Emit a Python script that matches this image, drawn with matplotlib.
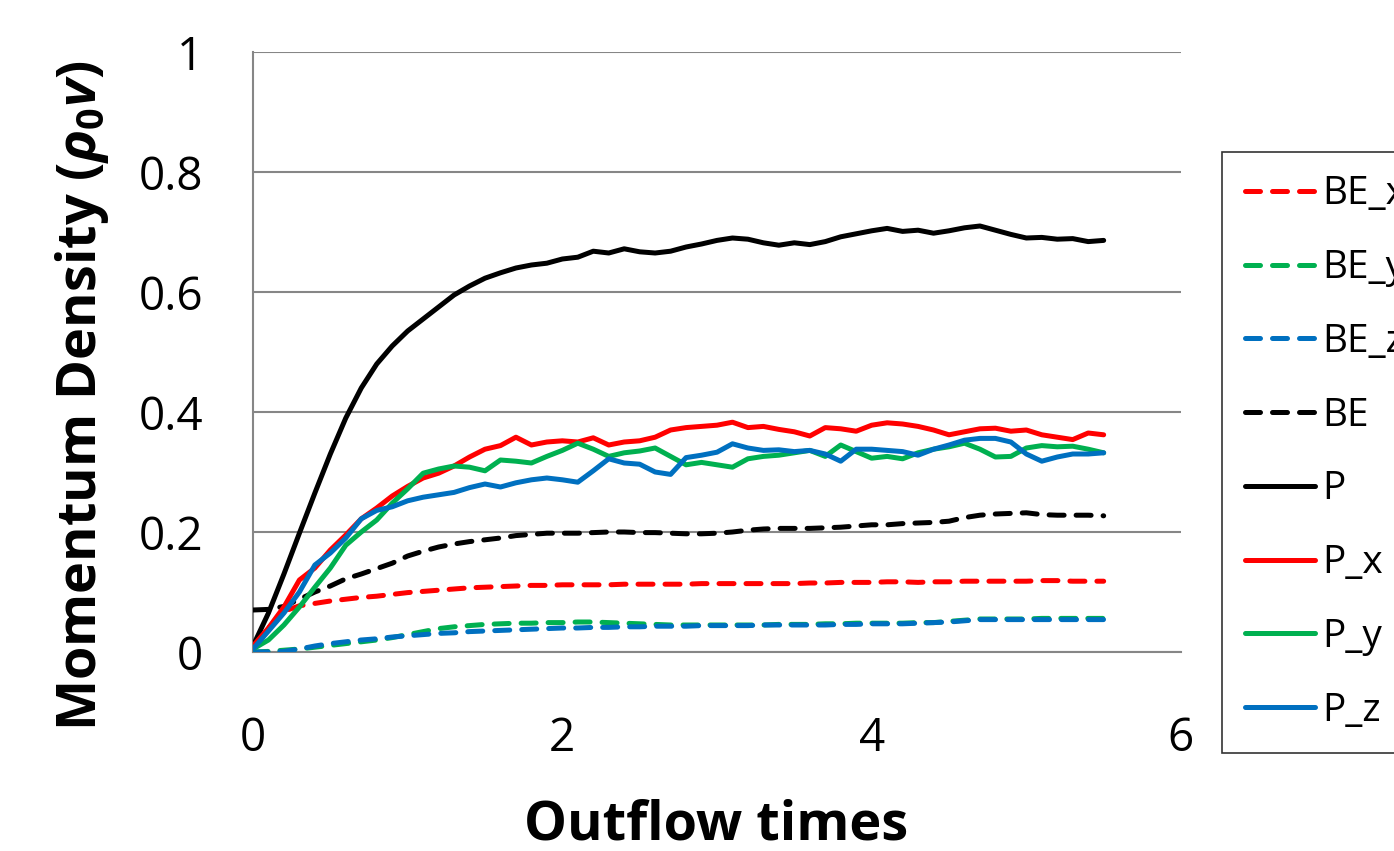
import numpy as np
import matplotlib
matplotlib.use("Agg")
import matplotlib.pyplot as plt

plt.rcParams['font.family'] = ['Open Sans', 'DejaVu Sans']
plt.rcParams['mathtext.fontset'] = 'custom'
plt.rcParams['mathtext.it'] = 'Open Sans:italic:bold'
plt.rcParams['mathtext.rm'] = 'Open Sans:bold'
plt.rcParams['mathtext.bf'] = 'Open Sans:bold'

# ---------------- data ----------------
time = np.round(np.arange(0, 5.51, 0.1), 1)

BE_x = [0.005, 0.040, 0.068, 0.077, 0.081, 0.085, 0.088, 0.091, 0.093, 0.096,
        0.099, 0.101, 0.103, 0.105, 0.107, 0.108, 0.109, 0.110, 0.111, 0.111,
        0.112, 0.112, 0.112, 0.112, 0.113, 0.113, 0.113, 0.113, 0.113, 0.114,
        0.114, 0.114, 0.114, 0.114, 0.114, 0.114, 0.115, 0.115, 0.116, 0.116,
        0.116, 0.117, 0.117, 0.116, 0.117, 0.117, 0.118, 0.118, 0.118, 0.118,
        0.118, 0.119, 0.119, 0.118, 0.118, 0.118]
BE_y = [0.000, 0.001, 0.003, 0.005, 0.008, 0.011, 0.014, 0.017, 0.020, 0.024,
        0.029, 0.034, 0.039, 0.042, 0.044, 0.046, 0.047, 0.048, 0.048, 0.049,
        0.049, 0.050, 0.050, 0.049, 0.048, 0.047, 0.046, 0.045, 0.045, 0.045,
        0.045, 0.045, 0.045, 0.045, 0.046, 0.046, 0.046, 0.047, 0.047, 0.048,
        0.048, 0.048, 0.048, 0.049, 0.049, 0.051, 0.053, 0.055, 0.055, 0.055,
        0.055, 0.056, 0.056, 0.056, 0.056, 0.056]
BE_z = [0.000, 0.000, 0.001, 0.005, 0.010, 0.014, 0.017, 0.020, 0.022, 0.025,
        0.027, 0.029, 0.031, 0.032, 0.034, 0.035, 0.036, 0.037, 0.038, 0.039,
        0.040, 0.040, 0.041, 0.041, 0.042, 0.042, 0.043, 0.043, 0.043, 0.044,
        0.044, 0.044, 0.044, 0.045, 0.045, 0.045, 0.045, 0.045, 0.046, 0.046,
        0.047, 0.047, 0.047, 0.048, 0.049, 0.050, 0.052, 0.054, 0.054, 0.054,
        0.054, 0.054, 0.054, 0.054, 0.054, 0.054]
BE = [0.070, 0.071, 0.076, 0.088, 0.100, 0.110, 0.122, 0.130, 0.139, 0.148,
      0.160, 0.168, 0.175, 0.180, 0.184, 0.187, 0.190, 0.194, 0.196, 0.198,
      0.198, 0.198, 0.199, 0.200, 0.200, 0.199, 0.199, 0.198, 0.197, 0.197,
      0.198, 0.200, 0.203, 0.205, 0.206, 0.206, 0.206, 0.207, 0.208, 0.210,
      0.212, 0.212, 0.214, 0.215, 0.216, 0.218, 0.224, 0.228, 0.230, 0.231,
      0.232, 0.229, 0.228, 0.228, 0.228, 0.227]
P = [0.010, 0.065, 0.130, 0.198, 0.265, 0.330, 0.390, 0.440, 0.480, 0.510,
     0.535, 0.555, 0.575, 0.595, 0.610, 0.623, 0.632, 0.640, 0.645, 0.648,
     0.655, 0.658, 0.668, 0.665, 0.672, 0.667, 0.665, 0.668, 0.675, 0.680,
     0.686, 0.690, 0.688, 0.682, 0.678, 0.682, 0.679, 0.684, 0.692, 0.697,
     0.702, 0.706, 0.701, 0.703, 0.698, 0.702, 0.707, 0.710, 0.703, 0.696,
     0.690, 0.691, 0.688, 0.689, 0.684, 0.686]
P_x = [0.010, 0.040, 0.075, 0.120, 0.140, 0.170, 0.195, 0.222, 0.240, 0.260,
       0.276, 0.290, 0.298, 0.310, 0.325, 0.338, 0.344, 0.358, 0.345, 0.350,
       0.352, 0.350, 0.357, 0.345, 0.350, 0.352, 0.358, 0.370, 0.374, 0.376,
       0.378, 0.383, 0.374, 0.376, 0.371, 0.367, 0.360, 0.374, 0.372, 0.368,
       0.378, 0.382, 0.380, 0.376, 0.370, 0.362, 0.367, 0.372, 0.373, 0.368,
       0.370, 0.362, 0.358, 0.354, 0.365, 0.362]
P_y = [0.005, 0.020, 0.045, 0.075, 0.108, 0.140, 0.178, 0.200, 0.220, 0.248,
       0.272, 0.298, 0.305, 0.310, 0.308, 0.302, 0.320, 0.318, 0.315, 0.326,
       0.336, 0.348, 0.338, 0.326, 0.332, 0.335, 0.340, 0.326, 0.312, 0.316,
       0.312, 0.308, 0.322, 0.326, 0.328, 0.332, 0.336, 0.326, 0.345, 0.334,
       0.323, 0.326, 0.322, 0.332, 0.338, 0.342, 0.348, 0.338, 0.325, 0.326,
       0.340, 0.344, 0.342, 0.343, 0.338, 0.332]
P_z = [0.005, 0.035, 0.065, 0.100, 0.145, 0.165, 0.190, 0.222, 0.236, 0.242,
       0.252, 0.258, 0.262, 0.266, 0.274, 0.280, 0.275, 0.282, 0.287, 0.290,
       0.287, 0.283, 0.302, 0.322, 0.315, 0.313, 0.300, 0.296, 0.324, 0.328,
       0.333, 0.347, 0.340, 0.336, 0.337, 0.334, 0.336, 0.330, 0.318, 0.338,
       0.338, 0.336, 0.334, 0.328, 0.338, 0.345, 0.353, 0.356, 0.356, 0.350,
       0.330, 0.318, 0.325, 0.330, 0.330, 0.332]

series_names = ['BE_x', 'BE_y', 'BE_z', 'BE', 'P', 'P_x', 'P_y', 'P_z']
series_values = [BE_x, BE_y, BE_z, BE, P, P_x, P_y, P_z]
series_colors = ['#FF0000', '#00B050', '#0070C0', '#000000',
                 '#000000', '#FF0000', '#00B050', '#0070C0']
series_dashed = [True, True, True, True, False, False, False, False]

x_ticks = [0, 2, 4, 6]
x_tick_labels = ['0', '2', '4', '6']
y_ticks = [0, 0.2, 0.4, 0.6, 0.8, 1.0]
y_tick_labels = ['0', '0.2', '0.4', '0.6', '0.8', '1']

# ---------------- figure ----------------
W, H = 1394, 851
fig = plt.figure(figsize=(W / 100, H / 100), dpi=100)
ax = fig.add_axes([253 / W, 1 - 652 / H, (1181 - 253) / W, 600 / H])

grid_c = '#868686'
LW = 3.6
for name, vals, col, dsh in zip(series_names, series_values, series_colors, series_dashed):
    if dsh:
        ax.plot(time, vals, color=col, lw=LW, linestyle=(0, (3.0, 2.4)),
                dash_capstyle='round', solid_capstyle='round', label=name, zorder=3)
    else:
        ax.plot(time, vals, color=col, lw=LW, solid_joinstyle='round',
                solid_capstyle='round', label=name, zorder=3)

ax.set_xlim(0, 6)
ax.set_ylim(0, 1)
ax.set_xticks(x_ticks)
ax.set_xticklabels(x_tick_labels)
ax.set_yticks(y_ticks)
ax.set_yticklabels(y_tick_labels)
ax.tick_params(axis='both', length=0, labelsize=33)
ax.tick_params(axis='x', pad=46)
ax.tick_params(axis='y', pad=36)

ax.grid(axis='y', color=grid_c, lw=1.5, zorder=0)
for s in ['top', 'right']:
    ax.spines[s].set_visible(False)
ax.spines['left'].set_color(grid_c)
ax.spines['left'].set_linewidth(1.5)
ax.spines['bottom'].set_color(grid_c)
ax.spines['bottom'].set_linewidth(1.5)

fig.text(716 / W, 1 - 826 / H, 'Outflow times', ha='center', va='center',
         fontsize=39, fontweight='bold')
fig.text(82 / W, 1 - 396 / H, r'Momentum Density ($\rho_0 v$)', ha='center', va='center',
         rotation=90, fontsize=39, fontweight='bold')

leg = fig.legend(loc='upper left', bbox_to_anchor=(1222 / W, 1 - 152 / H),
                 fontsize=28, frameon=True, fancybox=False, borderaxespad=0,
                 handlelength=1.8, handletextpad=0.18, labelspacing=0.92,
                 borderpad=0.6)
leg.get_frame().set_edgecolor('black')
leg.get_frame().set_linewidth(1.2)

fig.savefig('out.png', dpi=100)
